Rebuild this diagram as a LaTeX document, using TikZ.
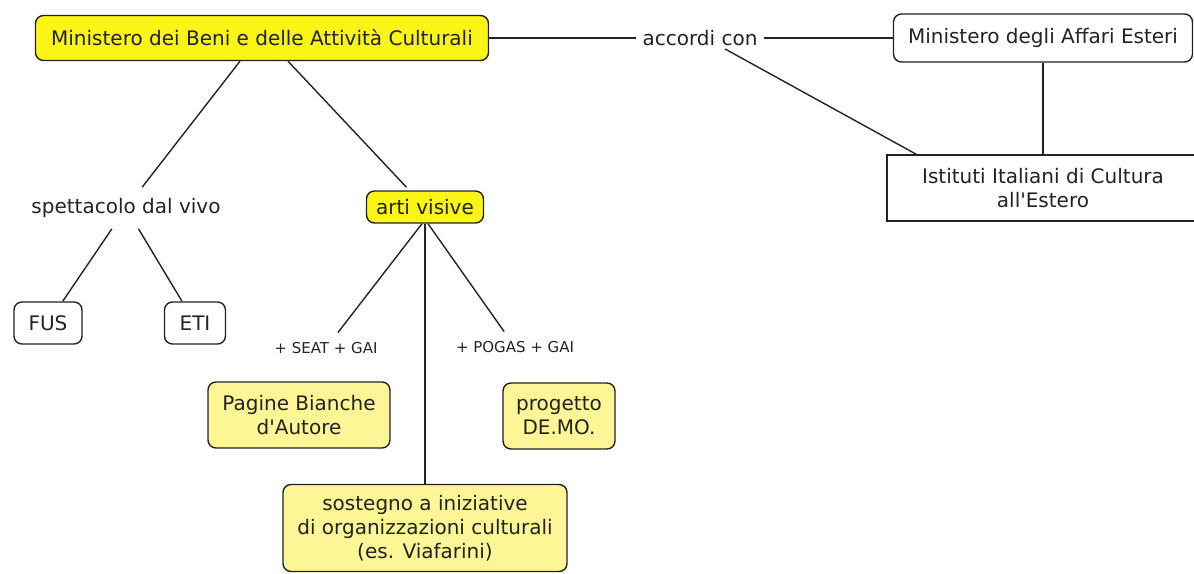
\documentclass[tikz,border=0pt]{standalone}
\usepackage{fontspec}
\setmainfont{DejaVu Sans}
\definecolor{brightyel}{RGB}{250,245,20}
\definecolor{paleyel}{RGB}{252,246,150}
\definecolor{inkgray}{RGB}{35,35,35}

\begin{document}
\begin{tikzpicture}[
  x=1pt, y=-1pt,
  font=\fontsize{20}{24}\selectfont,
  every node/.style={align=center, text=inkgray},
  box/.style={draw=inkgray, line width=1.4pt, rounded corners=8pt, fill=white},
  yelbox/.style={box, fill=brightyel},
  palebox/.style={box, fill=paleyel},
  sqbox/.style={draw=inkgray, line width=1.4pt, fill=white},
  lbl/.style={inner xsep=6pt, inner ysep=11pt},
  smalllbl/.style={font=\fontsize{15}{18}\selectfont, inner xsep=4pt, inner ysep=9.5pt},
  link/.style={draw=inkgray, line width=1.4pt},
]
\useasboundingbox (0,0) rectangle (1194,573);

\node[yelbox, minimum width=453pt, minimum height=45pt] (mibac) at (262,38) {Ministero dei Beni e delle Attività Culturali};
\node[lbl] (accordi) at (700,38) {accordi con};
\node[box, minimum width=299pt, minimum height=48pt] (mae) at (1043,38) {Ministero degli Affari Esteri};
\node[sqbox, minimum width=312pt, minimum height=66pt] (iic) at (1043,188) {Istituti Italiani di Cultura\\all\textquotesingle Estero};

\node[lbl] (spett) at (126,208) {spettacolo dal vivo};
\node[yelbox, minimum width=117pt, minimum height=32pt] (arti) at (425,207) {arti visive};
\node[box, minimum width=68pt, minimum height=42pt] (fus) at (48,323) {FUS};
\node[box, minimum width=61pt, minimum height=42pt] (eti) at (195,323) {ETI};

\node[smalllbl] (seat) at (326,348) {+ SEAT + GAI};
\node[smalllbl] (pogas) at (515,347) {+ POGAS + GAI};
\node[palebox, minimum width=182pt, minimum height=66pt] (pagine) at (299,415) {Pagine Bianche\\d\textquotesingle Autore};
\node[palebox, minimum width=112pt, minimum height=66pt] (demo) at (559,416) {progetto\\DE.MO.};
\node[palebox, minimum width=284pt, minimum height=87pt] (sostegno) at (425,528) {sostegno a iniziative\\di organizzazioni culturali\\(es. Viafarini)};

\draw[link] (mibac) -- (accordi);
\draw[link] (accordi) -- (mae);
\draw[link] ([xshift=25pt, yshift=8pt]accordi.south) -- ([xshift=30pt]iic.north west);
\draw[link] (mae) -- (iic);
\draw[link] ([xshift=-22pt]mibac.south) -- (spett);
\draw[link, shorten >=4pt] ([xshift=26pt]mibac.south) -- (arti);
\draw[link] (spett) -- (fus);
\draw[link] (spett) -- (eti);
\draw[link] ([xshift=-3pt]arti.south) -- (seat);
\draw[link] ([xshift=3pt]arti.south) -- (pogas);
\draw[link] (arti) -- (sostegno);
\end{tikzpicture}
\end{document}
